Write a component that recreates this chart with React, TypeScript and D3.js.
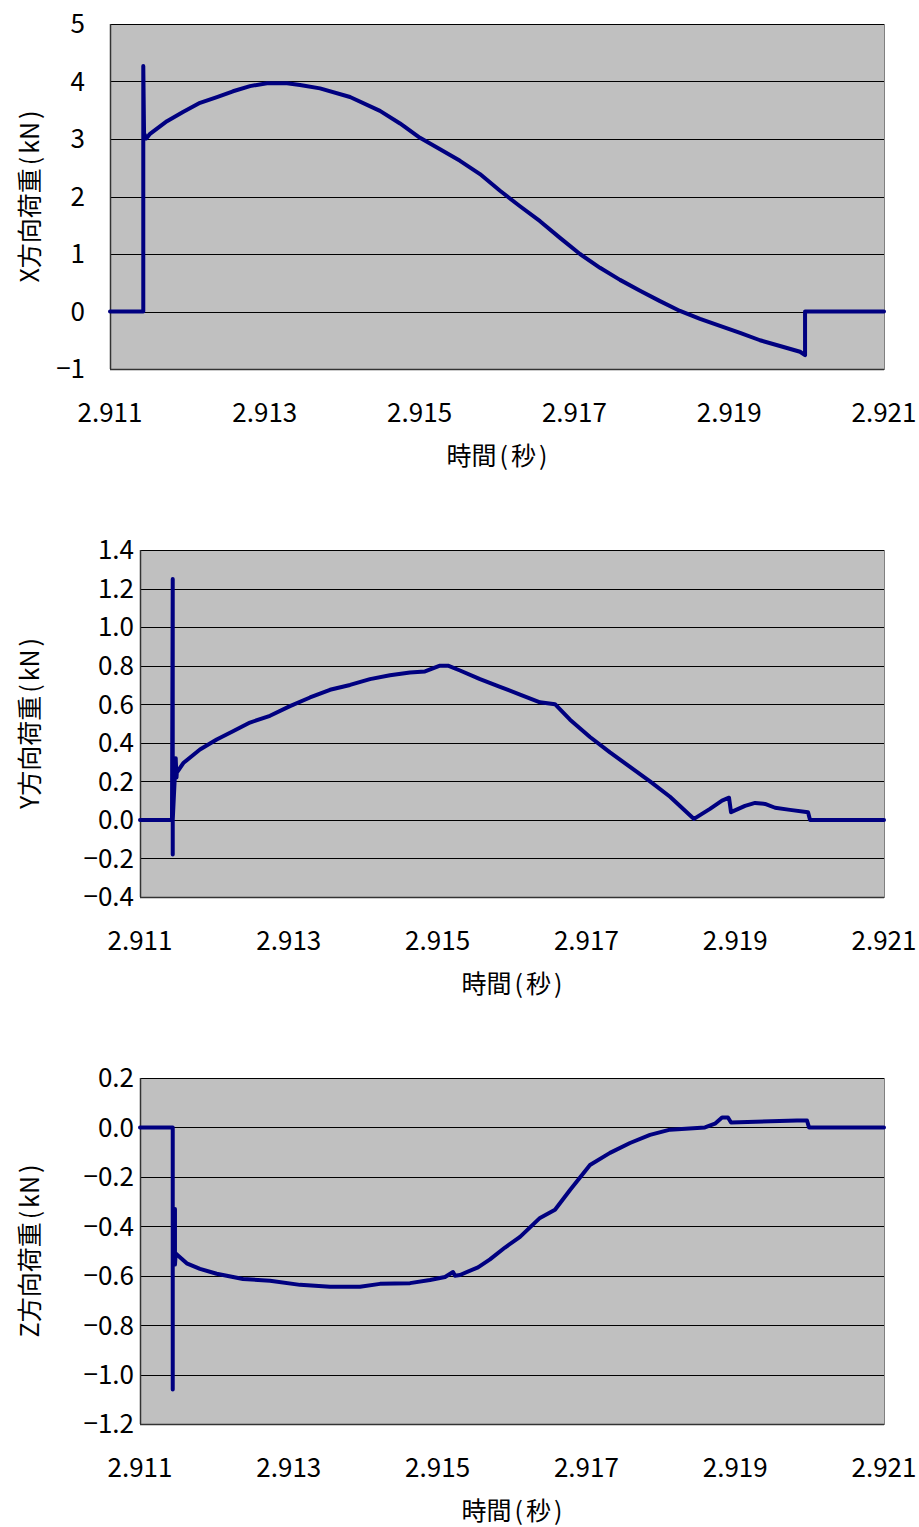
import React from "react";
import * as d3 from "d3";

// ---------- data ----------
const xTicks = [2.911, 2.913, 2.915, 2.917, 2.919, 2.921];

const xLoadTicks = [-1, 0, 1, 2, 3, 4, 5];
const yLoadTicks = [-0.4, -0.2, 0, 0.2, 0.4, 0.6, 0.8, 1.0, 1.2, 1.4];
const zLoadTicks = [-1.2, -1.0, -0.8, -0.6, -0.4, -0.2, 0, 0.2];

// [time (s), load (kN)]
const xLoadPoints: [number, number][] = [
  [2.911, 0], [2.91142, 0], [2.91143, 0], [2.91143, 4.27], [2.91144, 3.1], [2.91147, 3.01],
  [2.911517, 3.09], [2.911736, 3.31], [2.911943, 3.47], [2.912163, 3.63], [2.912382, 3.73],
  [2.912589, 3.83], [2.912809, 3.92], [2.913028, 3.97], [2.913287, 3.97], [2.913455, 3.94],
  [2.913713, 3.88], [2.914101, 3.73], [2.914488, 3.49], [2.914747, 3.27], [2.915005, 3.02],
  [2.915264, 2.82], [2.915522, 2.62], [2.91578, 2.39], [2.916039, 2.1], [2.916297, 1.83],
  [2.916556, 1.57], [2.916814, 1.28], [2.917072, 1.0], [2.917331, 0.76], [2.917589, 0.55],
  [2.917848, 0.36], [2.918106, 0.18], [2.918364, 0.01], [2.918623, -0.13], [2.918881, -0.25],
  [2.91914, -0.37], [2.919398, -0.5], [2.919656, -0.6], [2.919915, -0.7], [2.91998, -0.76],
  [2.91998, 0], [2.921, 0],
];

const yLoadPoints: [number, number][] = [
  [2.911, 0], [2.91143, 0], [2.91144, 1.25], [2.91144, -0.18], [2.91144, 0], [2.91148, 0.32],
  [2.91149, 0.22], [2.911495, 0.245], [2.911582, 0.295], [2.911806, 0.365], [2.912031, 0.417],
  [2.91225, 0.46], [2.912478, 0.505], [2.912747, 0.54], [2.913016, 0.59], [2.913285, 0.635],
  [2.913554, 0.675], [2.913823, 0.7], [2.914091, 0.73], [2.91436, 0.75], [2.914629, 0.765],
  [2.914831, 0.77], [2.915032, 0.8], [2.91514, 0.8], [2.915301, 0.775], [2.91557, 0.73],
  [2.915839, 0.69], [2.916108, 0.65], [2.916376, 0.61], [2.916578, 0.6], [2.91678, 0.52],
  [2.917048, 0.43], [2.917317, 0.35], [2.917586, 0.275], [2.917855, 0.2], [2.918124, 0.12],
  [2.918446, 0.005], [2.918661, 0.057], [2.918823, 0.1], [2.918917, 0.115], [2.918944, 0.04],
  [2.919132, 0.073], [2.919267, 0.088], [2.919401, 0.083], [2.919536, 0.063], [2.919737, 0.052],
  [2.919979, 0.04], [2.920006, 0], [2.921, 0],
];

const zLoadPoints: [number, number][] = [
  [2.911, 0], [2.91144, 0], [2.91144, -1.06], [2.91144, -0.5], [2.91147, -0.33], [2.91147, -0.555],
  [2.91148, -0.51], [2.911628, -0.55], [2.911806, -0.572], [2.912031, -0.592], [2.91225, -0.605],
  [2.912384, -0.613], [2.912747, -0.62], [2.913151, -0.637], [2.913554, -0.645], [2.913957, -0.645],
  [2.914226, -0.633], [2.914629, -0.63], [2.914898, -0.617], [2.9151, -0.605], [2.915207, -0.585],
  [2.915234, -0.6], [2.915301, -0.597], [2.915543, -0.566], [2.915704, -0.534], [2.915906, -0.486],
  [2.916108, -0.443], [2.916376, -0.366], [2.916578, -0.333], [2.91678, -0.253], [2.917048, -0.152],
  [2.917317, -0.103], [2.917586, -0.063], [2.917855, -0.03], [2.918124, -0.009], [2.918594, 0],
  [2.918728, 0.015], [2.918823, 0.04], [2.918903, 0.04], [2.918944, 0.02], [2.919831, 0.028],
  [2.919965, 0.028], [2.919992, 0], [2.921, 0],
];

// ---------- components ----------
const FONT = "'Noto Sans CJK JP', 'Noto Sans', sans-serif";

function ParenText({ text, ...rest }: any) {
  const parts: React.ReactNode[] = [];
  const chars = Array.from(text as string);
  let buf = "";
  let key = 0;
  const flush = () => {
    if (buf) parts.push(<tspan key={key++}>{buf}</tspan>);
    buf = "";
  };
  chars.forEach((c, i) => {
    if (c === "(" || c === ")" || (i > 0 && chars[i - 1] === "(")) {
      flush();
      parts.push(
        <tspan key={key++} dx="0.12em">
          {c}
        </tspan>
      );
    } else buf += c;
  });
  flush();
  return <text {...rest}>{parts}</text>;
}

function Panel({ left, right, top, bottom, domain, ticks, fmt, points, yTitle, yTickRight }: any) {
  const x = d3.scaleLinear().domain([2.911, 2.921]).range([left, right]);
  const y = d3.scaleLinear().domain(domain).range([bottom, top]);
  const line = d3
    .line<[number, number]>()
    .x((d) => x(d[0]))
    .y((d) => y(d[1]));
  const f = d3.format(fmt);
  const xf = d3.format(".3f");
  return (
    <g>
      <rect x={left} y={top} width={right - left} height={bottom - top} fill="#C0C0C0" stroke="#808080" strokeWidth={1} shapeRendering="crispEdges" />
      {ticks.map((t: number) => (
        <line key={"g" + t} x1={left} x2={right} y1={Math.round(y(t)) + 0.5} y2={Math.round(y(t)) + 0.5} stroke="#000" strokeWidth={1} />
      ))}
      <line x1={left + 0.5} x2={left + 0.5} y1={top} y2={bottom} stroke="#333" strokeWidth={1.5} />
      <line x1={left} x2={right} y1={bottom + 0.5} y2={bottom + 0.5} stroke="#333" strokeWidth={1.5} />
      {ticks.map((t: number) => (
        <text key={"yt" + t} x={yTickRight} y={y(t)} dy="0.36em" textAnchor="end" fontSize={26} fontFamily={FONT} fill="#000">
          {f(t)}
        </text>
      ))}
      {xTicks.map((t) => (
        <text key={"xt" + t} x={x(t)} y={bottom + 44} dy="0.36em" textAnchor="middle" fontSize={26} fontFamily={FONT} fill="#000">
          {xf(t)}
        </text>
      ))}
      <path d={line(points) || ""} fill="none" stroke="#000080" strokeWidth={4} strokeLinejoin="round" strokeLinecap="round" />
      <ParenText text="時間(秒)" x={(left + right) / 2} y={bottom + 87} dy="0.36em" textAnchor="middle" fontSize={25} fontFamily={FONT} fill="#000" />
      <ParenText text={yTitle} transform={`translate(30,${(top + bottom) / 2}) rotate(-90)`} dy="0.36em" textAnchor="middle" fontSize={25} fontFamily={FONT} fill="#000" />
    </g>
  );
}

export default function App() {
  return (
    <svg width={919} height={1527} style={{ position: "absolute", left: 0, top: 0, background: "#fff" }}>
      <rect width={919} height={1527} fill="#fff" />
      <Panel left={110} right={884} top={24} bottom={369} domain={[-1, 5]} ticks={xLoadTicks} fmt="d"
        points={xLoadPoints} yTitle="X方向荷重(kN)" yTickRight={85} />
      <Panel left={140} right={884} top={550} bottom={897} domain={[-0.4, 1.4]} ticks={yLoadTicks} fmt=".1f"
        points={yLoadPoints} yTitle="Y方向荷重(kN)" yTickRight={134} />
      <Panel left={140} right={884} top={1078} bottom={1424} domain={[-1.2, 0.2]} ticks={zLoadTicks} fmt=".1f"
        points={zLoadPoints} yTitle="Z方向荷重(kN)" yTickRight={134} />
    </svg>
  );
}
